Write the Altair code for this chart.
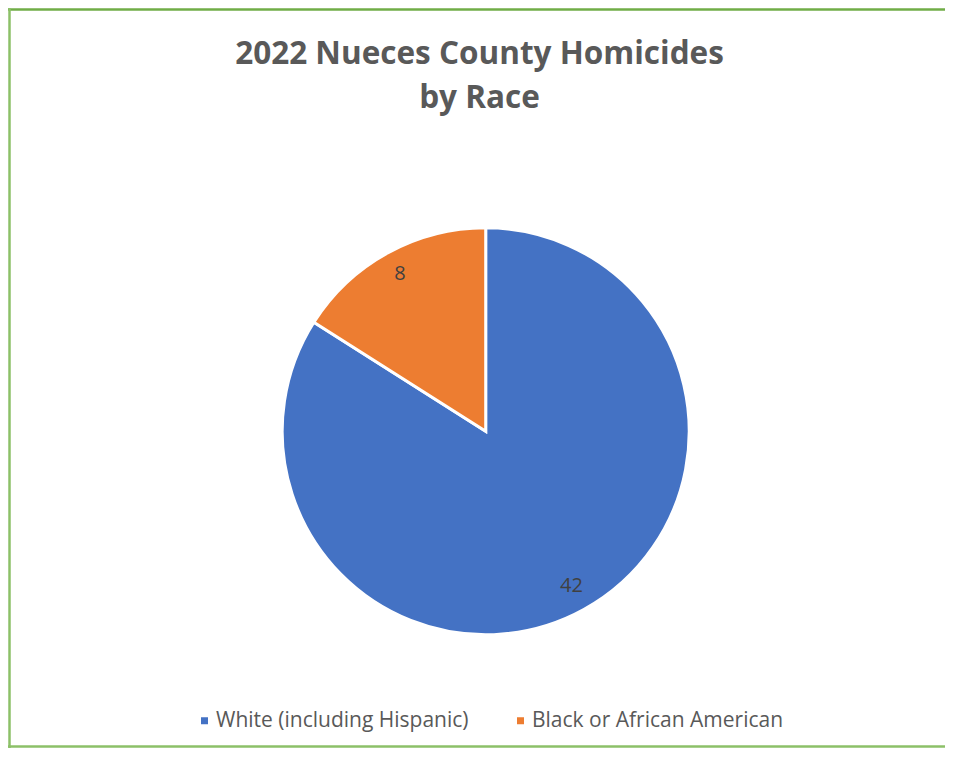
import altair as alt
import pandas as pd

categories = ["White (including Hispanic)", "Black or African American"]
values = [42, 8]
order = [1, 2]
colors = ["#4472C4", "#ED7D31"]

df = pd.DataFrame({"race": categories, "count": values, "order": order})

PAD_TOP = 120
W, H = 937, 620
GREEN = "#70AD47"

dummy = pd.DataFrame({"a": [0]})
top_rule = alt.Chart(dummy).mark_rule(color=GREEN, strokeWidth=2.5).encode(
    x=alt.value(0), x2=alt.value(W), y=alt.value(-PAD_TOP + 1.5)
)
left_rule = alt.Chart(dummy).mark_rule(color="#8CC068", strokeWidth=2.5).encode(
    x=alt.value(1.5), y=alt.value(-PAD_TOP), y2=alt.value(H)
)
bottom_rule = alt.Chart(dummy).mark_rule(color="#8CC068", strokeWidth=2.5).encode(
    x=alt.value(0), x2=alt.value(W), y=alt.value(H - 1.5)
)

base = alt.Chart(df).encode(
    theta=alt.Theta("count:Q", stack=True),
    order=alt.Order("order:Q"),
    color=alt.Color(
        "race:N",
        scale=alt.Scale(domain=categories, range=colors),
        sort=categories,
        legend=alt.Legend(
            title=None, orient="none", direction="horizontal",
            legendX=186, legendY=582,
            symbolType="square", symbolSize=49, symbolStrokeWidth=0,
            labelFont="Open Sans", labelFontSize=21, labelColor="#595959",
            labelLimit=400, columnPadding=41, labelOffset=1,
        ),
    ),
)

pie = base.mark_arc(radius=203.5, stroke="white", strokeWidth=3).encode(
    x=alt.value(477.7), y=alt.value(303.3)
)

labels = base.mark_text(
    radius=178, font="Open Sans", fontSize=20, color="#404040", dy=-1
).encode(
    x=alt.value(477.7), y=alt.value(303.3),
    text="count:Q",
    color=alt.value("#404040"),
)

chart = alt.layer(top_rule, left_rule, bottom_rule, pie, labels).properties(
    width=W, height=H,
    autosize=alt.AutoSizeParams(type="none"),
    padding={"left": 0, "right": 0, "top": PAD_TOP, "bottom": 0},
    title=alt.Title(
        ["2022 Nueces County Homicides", "by Race"],
        font="Open Sans", fontSize=31.5, fontWeight="bold", color="#595959",
        anchor="middle", frame="group", lineHeight=44, offset=0,
        baseline="alphabetic", dy=133, dx=3,
    ),
).configure_view(stroke=None)

chart.save("out.html", embed_options={"renderer": "svg", "actions": False})
